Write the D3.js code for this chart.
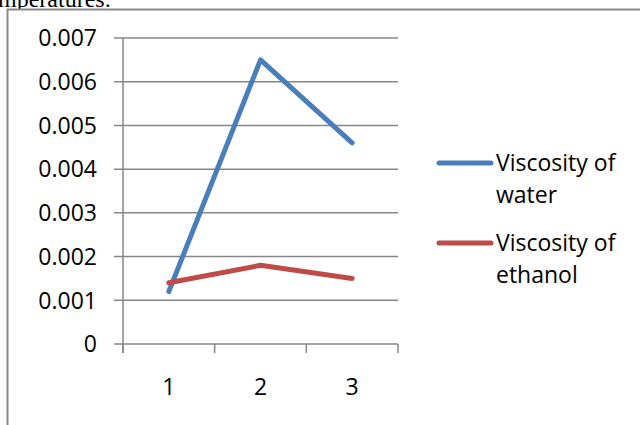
<!DOCTYPE html>
<html>
<head>
<meta charset="utf-8">
<style>
  body { margin: 0; background: #fff; }
  svg { display: block; }
  text { font-family: "Open Sans", sans-serif; fill: #000; }
</style>
</head>
<body>
<div id="chart"></div>
<script src="https://d3js.org/d3.v7.min.js"></script>
<script>
'use strict';

var categories = ['1', '2', '3'];
var water = [0.0012, 0.0065, 0.0046];
var ethanol = [0.0014, 0.0018, 0.0015];
var yTicks = [0, 0.001, 0.002, 0.003, 0.004, 0.005, 0.006, 0.007];
var seriesNames = [['Viscosity of', 'water'], ['Viscosity of', 'ethanol']];
var seriesColors = ['#4a7ebb', '#be4b48'];

var width = 640, height = 425;

var svg = d3.select('#chart').append('svg')
  .attr('width', width).attr('height', height);

// page text cut off above the chart
svg.append('text')
  .attr('x', -2).attr('y', 7)
  .style('font-family', '"Liberation Serif", serif')
  .style('font-size', '24px')
  .text('mperatures:');

// chart frame
svg.append('rect')
  .attr('x', 7.5).attr('y', 9.5)
  .attr('width', 700).attr('height', 500)
  .attr('fill', '#fff')
  .attr('stroke', '#898989').attr('stroke-width', 2);

var x = d3.scaleBand().domain(categories).range([123, 398]);
var y = d3.scaleLinear().domain([0, 0.007]).range([344, 38]);

var grid = '#868686';
var fs = '23px';

// gridlines + y ticks
svg.selectAll('.grid').data(yTicks).enter().append('line')
  .attr('x1', 114).attr('x2', 398)
  .attr('y1', d => y(d)).attr('y2', d => y(d))
  .attr('stroke', grid).attr('stroke-width', 1.5);

svg.selectAll('.ylab').data(yTicks).enter().append('text')
  .attr('x', 97).attr('y', d => y(d))
  .attr('dy', '0.36em')
  .attr('text-anchor', 'end')
  .style('font-size', fs)
  .text(d => d === 0 ? '0' : d.toFixed(3));

// y axis line
svg.append('line')
  .attr('x1', 123).attr('x2', 123)
  .attr('y1', y(0.007)).attr('y2', 353)
  .attr('stroke', grid).attr('stroke-width', 1.5);

// x ticks at band edges
var edges = categories.map(c => x(c)).concat([x.range()[1]]);
svg.selectAll('.xtick').data(edges).enter().append('line')
  .attr('x1', d => d).attr('x2', d => d)
  .attr('y1', 344).attr('y2', 353)
  .attr('stroke', grid).attr('stroke-width', 1.5);

svg.selectAll('.xlab').data(categories).enter().append('text')
  .attr('x', d => x(d) + x.bandwidth() / 2)
  .attr('y', 387).attr('dy', '0.36em')
  .attr('text-anchor', 'middle')
  .style('font-size', fs)
  .text(d => d);

var line = d3.line()
  .x((d, i) => x(categories[i]) + x.bandwidth() / 2)
  .y(d => y(d));

[water, ethanol].forEach(function (s, i) {
  svg.append('path')
    .attr('d', line(s))
    .attr('fill', 'none')
    .attr('stroke', seriesColors[i])
    .attr('stroke-width', 5)
    .attr('stroke-linecap', 'round')
    .attr('stroke-linejoin', 'round');
});

// legend
var legY = [163, 243];
seriesNames.forEach(function (names, i) {
  svg.append('line')
    .attr('x1', 439).attr('x2', 491)
    .attr('y1', legY[i]).attr('y2', legY[i])
    .attr('stroke', seriesColors[i])
    .attr('stroke-width', 5)
    .attr('stroke-linecap', 'round');
  names.forEach(function (t, j) {
    svg.append('text')
      .attr('x', 496).attr('y', legY[i] + j * 32)
      .attr('dy', '0.36em')
      .style('font-size', fs)
      .text(t);
  });
});
</script>
</body>
</html>
